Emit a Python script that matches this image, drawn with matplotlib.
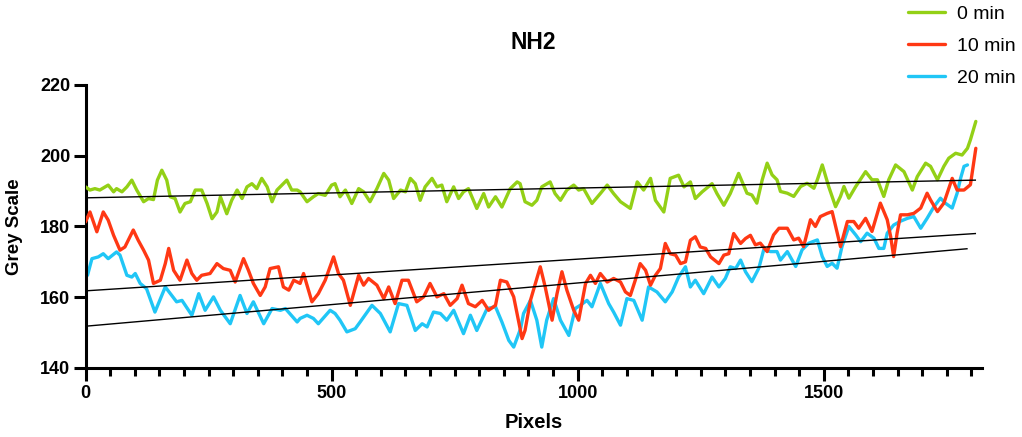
import numpy as np
import matplotlib
matplotlib.use("Agg")
import matplotlib.pyplot as plt
from matplotlib.ticker import MultipleLocator

plt.rcParams["font.family"] = ["Liberation Sans", "DejaVu Sans"]

# grey-scale profiles (x in pixels, y in grey value)
x0 = [0, 9, 19, 29, 46, 57, 63, 74, 84, 94, 104, 118, 128, 138, 146, 155, 165, 172, 182, 192,
      202, 213, 223, 236, 247, 257, 267, 274, 287, 297, 308, 318, 328, 338, 348, 358, 369, 379, 389, 409,
      419, 430, 436, 450, 463, 473, 487, 500, 507, 517, 528, 541, 555, 565, 578, 592, 606, 616, 626, 640,
      650, 660, 670, 680, 690, 704, 714, 724, 734, 748, 758, 768, 778, 795, 809, 819, 833, 846, 863, 877,
      883, 893, 907, 917, 927, 944, 954, 965, 978, 992, 1002, 1012, 1029, 1046, 1060, 1073, 1087, 1107, 1121, 1134,
      1148, 1158, 1175, 1188, 1205, 1216, 1229, 1239, 1253, 1273, 1283, 1297, 1310, 1327, 1344, 1354, 1364, 1375, 1385, 1395,
      1405, 1412, 1426, 1439, 1453, 1466, 1480, 1487, 1497, 1510, 1524, 1534, 1541, 1551, 1565, 1585, 1598, 1609, 1622, 1632,
      1646, 1663, 1680, 1690, 1707, 1717, 1731, 1744, 1754, 1768, 1781, 1792, 1798, 1809]
y0 = [191.2, 190.3, 190.7, 190.3, 191.7, 189.8, 190.7, 189.8, 191.2, 193.1, 190.3, 187.0, 187.9, 187.6, 193.1, 195.9, 193.1, 188.4, 187.9, 184.1,
      186.5, 187.0, 190.3, 190.3, 186.5, 182.2, 184.1, 188.4, 183.6, 187.4, 190.3, 187.9, 191.2, 192.1, 190.7, 193.6, 191.2, 187.0, 190.3, 193.1,
      190.3, 190.3, 189.8, 187.0, 188.4, 189.3, 188.8, 191.7, 192.1, 188.4, 190.3, 186.5, 190.7, 189.8, 187.0, 190.7, 195.0, 193.1, 187.9, 190.3,
      189.8, 193.6, 192.1, 187.4, 191.2, 193.6, 191.2, 191.7, 187.0, 191.2, 187.9, 189.8, 190.7, 185.1, 189.3, 185.5, 188.4, 185.5, 190.7, 192.6,
      192.1, 187.0, 186.0, 187.4, 191.2, 192.6, 189.3, 187.4, 190.3, 191.7, 190.3, 190.7, 186.5, 189.3, 191.7, 189.3, 187.0, 185.1, 192.6, 190.3,
      193.6, 187.4, 184.1, 193.6, 194.5, 191.2, 192.6, 187.9, 189.8, 192.1, 189.3, 186.0, 189.3, 195.0, 189.4, 188.9, 186.6, 193.2, 197.9, 194.6,
      193.2, 189.9, 189.4, 188.5, 191.3, 192.2, 190.8, 193.2, 197.4, 191.3, 185.6, 188.5, 191.3, 188.0, 191.3, 195.5, 193.2, 193.2, 188.5, 193.2,
      197.4, 195.5, 190.3, 194.1, 197.9, 197.0, 193.2, 197.0, 199.3, 200.7, 200.2, 202.1, 204.5, 209.7]

x10 = [0, 9, 23, 36, 46, 57, 70, 80, 97, 107, 118, 128, 138, 152, 162, 169, 179, 192, 206, 216,
       226, 236, 253, 267, 280, 294, 304, 321, 331, 341, 355, 365, 375, 392, 402, 413, 423, 436, 443, 460,
       473, 487, 504, 514, 524, 538, 555, 565, 575, 592, 606, 616, 629, 643, 656, 673, 687, 700, 714, 728,
       741, 755, 765, 778, 792, 806, 819, 833, 843, 856, 870, 887, 893, 904, 914, 924, 934, 948, 958, 968,
       978, 992, 1002, 1016, 1026, 1036, 1046, 1060, 1073, 1087, 1097, 1107, 1117, 1127, 1138, 1148, 1158, 1168, 1178, 1188,
       1199, 1209, 1219, 1229, 1239, 1249, 1260, 1270, 1287, 1297, 1307, 1317, 1331, 1341, 1351, 1361, 1371, 1385, 1398, 1409,
       1426, 1439, 1449, 1459, 1473, 1483, 1493, 1507, 1517, 1534, 1548, 1561, 1571, 1585, 1598, 1615, 1629, 1636, 1642, 1649,
       1656, 1670, 1683, 1697, 1710, 1717, 1731, 1744, 1761, 1771, 1785, 1798, 1809]
y10 = [181.3, 184.1, 178.5, 184.1, 181.8, 177.5, 173.3, 174.2, 179.0, 176.1, 173.3, 170.5, 163.9, 164.8, 169.5, 173.8, 167.6, 164.8, 170.5, 166.7,
       164.8, 166.2, 166.7, 169.5, 168.1, 167.6, 164.3, 170.9, 167.6, 163.9, 160.5, 162.9, 168.1, 168.6, 162.9, 162.0, 164.8, 163.9, 166.7, 158.7,
       161.0, 164.8, 171.4, 166.7, 164.8, 157.7, 166.2, 163.4, 165.3, 163.4, 159.6, 162.9, 158.2, 164.8, 164.8, 158.7, 160.1, 163.9, 160.1, 161.0,
       157.7, 159.6, 163.4, 158.2, 157.3, 159.1, 156.3, 157.7, 164.8, 164.3, 160.1, 148.3, 150.6, 159.1, 163.9, 168.6, 162.9, 153.5, 161.0, 167.2,
       162.0, 156.3, 153.5, 163.9, 166.2, 163.9, 166.7, 164.3, 165.3, 164.3, 161.5, 160.5, 164.8, 169.5, 167.6, 163.4, 166.2, 168.1, 175.2, 172.3,
       171.9, 169.5, 170.0, 176.1, 177.1, 174.2, 173.8, 171.4, 169.5, 171.9, 172.3, 178.0, 175.2, 176.6, 177.5, 174.8, 175.3, 172.9, 177.6, 179.5,
       179.5, 176.2, 176.7, 174.3, 181.9, 180.0, 182.8, 183.7, 184.2, 174.3, 181.4, 181.4, 179.5, 182.3, 178.6, 186.6, 181.9, 177.1, 171.5, 178.1,
       183.3, 183.3, 183.7, 185.2, 189.4, 187.5, 184.2, 186.6, 193.6, 190.3, 190.3, 191.8, 202.1]

x20 = [0, 4, 13, 26, 36, 46, 63, 70, 84, 94, 101, 111, 124, 141, 162, 175, 185, 196, 216, 230,
       243, 260, 274, 294, 314, 328, 341, 362, 379, 396, 406, 430, 436, 450, 463, 473, 497, 507, 517, 531,
       548, 558, 582, 599, 619, 636, 653, 670, 684, 694, 707, 721, 734, 748, 768, 782, 795, 816, 833, 846,
       860, 870, 884, 890, 904, 917, 927, 937, 951, 965, 982, 995, 1005, 1019, 1029, 1046, 1063, 1073, 1087, 1100,
       1114, 1131, 1144, 1161, 1178, 1192, 1205, 1219, 1229, 1239, 1256, 1273, 1287, 1300, 1310, 1321, 1331, 1341, 1354, 1368,
       1378, 1392, 1405, 1412, 1426, 1443, 1456, 1470, 1487, 1497, 1507, 1517, 1527, 1537, 1551, 1565, 1575, 1588, 1602, 1612,
       1622, 1629, 1642, 1656, 1670, 1683, 1697, 1710, 1724, 1737, 1747, 1761, 1771, 1778, 1785, 1792]
y20 = [168.6, 166.2, 170.9, 171.4, 172.3, 170.9, 172.8, 171.9, 166.2, 165.7, 166.7, 163.9, 162.4, 155.8, 162.9, 160.5, 158.7, 159.1, 154.9, 161.0,
       156.3, 160.1, 156.3, 152.5, 160.5, 155.4, 158.7, 152.5, 156.8, 156.3, 156.8, 153.0, 154.0, 154.9, 154.0, 152.5, 156.3, 155.4, 153.5, 150.2,
       151.1, 153.0, 157.7, 155.4, 150.2, 158.2, 157.7, 150.6, 152.5, 151.6, 155.8, 155.4, 153.5, 156.3, 149.7, 154.9, 150.6, 156.8, 157.3, 153.0,
       147.8, 145.9, 151.1, 155.4, 159.1, 153.5, 145.9, 153.5, 159.6, 153.5, 149.2, 156.8, 157.7, 159.1, 157.3, 163.9, 158.2, 155.8, 152.1, 159.6,
       159.1, 153.5, 162.9, 161.5, 158.7, 161.5, 165.7, 168.6, 162.9, 164.8, 161.0, 165.7, 162.9, 165.3, 168.6, 168.1, 170.5, 167.2, 164.4, 168.2,
       173.4, 172.9, 172.9, 170.5, 172.9, 168.7, 173.4, 175.3, 176.2, 171.5, 168.7, 169.6, 168.2, 174.3, 180.0, 177.6, 175.7, 178.1, 176.7, 173.8,
       173.8, 178.1, 180.4, 181.5, 182.3, 182.8, 179.5, 182.3, 185.6, 188.0, 186.6, 185.2, 189.4, 193.6, 197.0, 197.4]

# linear fits drawn in the reference (start/end x, start/end y)
fit_x = {"0 min": [0, 1808], "10 min": [0, 1808], "20 min": [0, 1791]}
fit_y = {"0 min": [188.1, 193.1], "10 min": [161.8, 178.0], "20 min": [151.8, 173.7]}

labels = ["0 min", "10 min", "20 min"]
colors = ["#93D016", "#FF3814", "#20C6F6"]

fig = plt.figure(figsize=(10.22, 4.37), dpi=100)
ax = fig.add_axes([0.0837, 0.158, 0.8769, 0.6475])

kw = dict(lw=2.4, solid_joinstyle="round", solid_capstyle="round")
ax.plot(x20, y20, color=colors[2], label=labels[2], zorder=2, **kw)
ax.plot(x0, y0, color=colors[0], label=labels[0], zorder=3, **kw)
ax.plot(x10, y10, color=colors[1], label=labels[1], zorder=4, **kw)
for k in labels:
    ax.plot(fit_x[k], fit_y[k], color="black", lw=1.0, zorder=5)

ax.set_xlim(0, 1821)
ax.set_ylim(140, 220)
ax.xaxis.set_major_locator(MultipleLocator(500))
ax.xaxis.set_minor_locator(MultipleLocator(50))
ax.yaxis.set_major_locator(MultipleLocator(20))
for s in ["top", "right"]:
    ax.spines[s].set_visible(False)
for s in ["left", "bottom"]:
    ax.spines[s].set_linewidth(2.2)
ax.tick_params(axis="both", which="major", width=2.2, length=9, labelsize=13)
ax.tick_params(axis="x", which="major", pad=3)
ax.tick_params(axis="y", which="major", pad=2)
ax.tick_params(axis="x", which="minor", width=2.2, length=5.5)
for t in ax.get_xticklabels() + ax.get_yticklabels():
    t.set_fontweight("bold")

ax.set_xlabel("Pixels", fontsize=14.5, fontweight="bold", labelpad=8)
ax.set_ylabel("Grey Scale", fontsize=13.5, fontweight="bold", labelpad=12)
fig.text(0.522, 0.902, "NH2", fontsize=16.5, fontweight="bold", ha="center", va="center")

h, l = ax.get_legend_handles_labels()
order = [1, 2, 0]
fig.legend([h[i] for i in order], [l[i] for i in order], loc="upper left",
           bbox_to_anchor=(0.887, 0.993), frameon=False, fontsize=14, handlelength=1.9,
           handletextpad=0.6, labelspacing=0.75, borderpad=0.1, borderaxespad=0)

fig.savefig("out.png", dpi=100)
